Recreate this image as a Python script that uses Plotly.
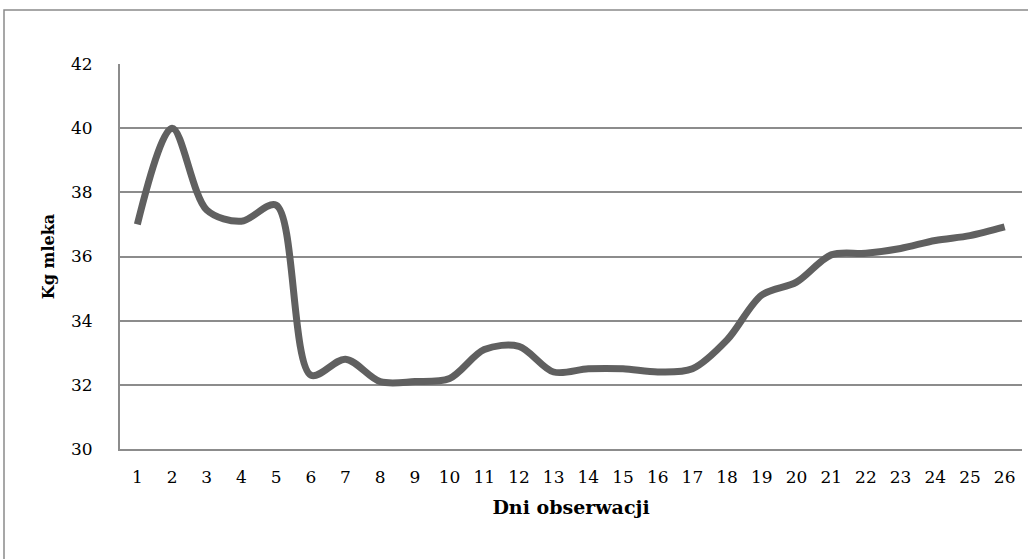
import plotly.graph_objects as go

days = list(range(1, 27))
milk_kg = [37.0, 40.0, 37.45, 37.1, 37.6, 32.3, 32.8, 32.1, 32.1, 32.2,
           33.1, 33.2, 32.4, 32.5, 32.5, 32.4, 32.5, 33.4, 34.8, 35.2,
           36.05, 36.1, 36.25, 36.5, 36.65, 36.92]
y_ticks = [30, 32, 34, 36, 38, 40, 42]
x_title = "Dni obserwacji"
y_title = "Kg mleka"

FONT = "DejaVu Serif, Liberation Serif, serif"
GRID = "#8c8c8c"

fig = go.Figure()
fig.add_trace(go.Scatter(
    x=days, y=milk_kg, mode="lines",
    line=dict(color="#606060", width=7, shape="spline", smoothing=0.9),
    showlegend=False, hoverinfo="x+y",
))

fig.update_layout(
    width=1028, height=559,
    margin=dict(l=120, r=6, t=64, b=110),
    paper_bgcolor="white", plot_bgcolor="white",
    font=dict(family=FONT, size=16, color="black"),
    xaxis=dict(
        range=[0.5, 26.5], tickmode="array", tickvals=days,
        ticktext=[str(d) for d in days],
        showgrid=False, zeroline=False,
        showline=True, linecolor=GRID, linewidth=2,
        ticks="", ticklabelstandoff=12,
        tickfont=dict(family=FONT, size=17),
        title=dict(text="<b>" + x_title + "</b>", font=dict(family=FONT, size=19), standoff=14),
        fixedrange=True,
    ),
    yaxis=dict(
        range=[30, 42], tickmode="array", tickvals=y_ticks,
        showgrid=True, gridcolor=GRID, gridwidth=1.5,
        zeroline=False, showline=True, linecolor=GRID, linewidth=2,
        ticks="", ticklabelstandoff=22,
        tickfont=dict(family=FONT, size=17),
        title=dict(text="<b>" + y_title + "</b>", font=dict(family=FONT, size=16), standoff=12),
        fixedrange=True,
    ),
    shapes=[dict(
        type="rect", xref="paper", yref="paper",
        x0=(4 - 120) / 902, x1=1.2, y0=-0.5, y1=1 + (64 - 10) / 385,
        line=dict(color="#8a8a8a", width=1.5), fillcolor="rgba(0,0,0,0)", layer="below",
    )],
)

fig.write_html("out.html", config={"displayModeBar": False},
               post_script="document.body.style.margin='0';document.body.style.overflow='hidden';")
